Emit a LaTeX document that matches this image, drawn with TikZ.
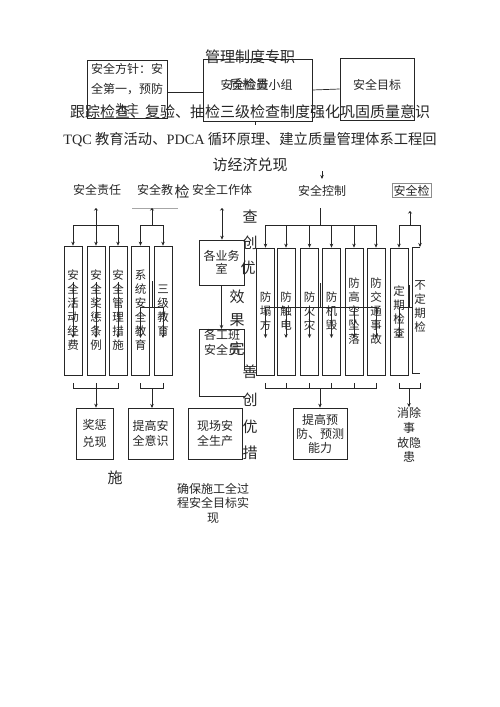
\documentclass[tikz,border=0pt]{standalone}
\usepackage{fontspec}
\setmainfont{Liberation Serif}
\newfontfamily\cjk{Noto Sans CJK SC}
\usetikzlibrary{arrows.meta}
\begin{document}
\begin{tikzpicture}[x=1pt,y=-1pt,line width=0.7pt,color=black!85,
  >={Stealth[length=4pt,width=3.5pt]},
  txt/.style={font=\cjk\fontsize{12}{15}\selectfont,inner sep=0pt,align=center},
  big/.style={font=\cjk\fontsize{15}{18}\selectfont,inner sep=0pt},
  bx/.style={draw,inner sep=0pt,align=center,font=\cjk\fontsize{12}{15}\selectfont},
  col/.style={draw,inner sep=0pt,minimum width=18,align=center,font=\cjk\fontsize{11.5}{14}\selectfont},
  upt/.style={{Stealth[length=2.5pt,width=4pt]}-},
  dbl/.style={double=white,double distance=0.8pt,line width=0.35pt}]
\useasboundingbox (0,0) rectangle (500,707);
% top row
\node[bx,minimum width=80,minimum height=58,font=\cjk\fontsize{12}{20}\selectfont] (fangzhen) at (127,89) {安全方针：安\\全第一，预防\\为主};
\node[bx,minimum width=109,minimum height=62] (xiaozu) at (257.5,90) {};
\node[txt] (xiaozut) at (256.5,85) {安全检查小组};
\node[txt,font=\cjk\fontsize{13}{15}\selectfont] (zhijian) at (249,85) {质检员};
\node[big] (guanli) at (250,57) {管理制度专职};
\node[bx,minimum width=74,minimum height=62] (mubiao) at (377,89) {};
\node[txt] (mubiaot) at (377,85) {安全目标};
\draw ([yshift=-3pt]fangzhen.east) -- ([yshift=-3pt]fangzhen.east -| xiaozu.west);
\draw (xiaozu.east) -- (mubiao.west);
\coordinate (tick) at (255,121);
\draw (tick) -- ++(0,4);
% text lines
\node[big] (l1) at (250,112) {跟踪检查、复验、抽检三级检查制度强化巩固质量意识};
\node[big,font=\cjk\fontsize{14.3}{18}\selectfont] (l2) at (250,140) {{\rmfamily TQC} 教育活动、{\rmfamily PDCA} 循环原理、建立质量管理体系工程回};
\node[big] (l3) at (250,165) {访经济兑现};
% labels
\node[txt] (zeren) at (97,190) {安全责任};
\node[txt] (jiaoyu) at (155,190) {安全教};
\node[big] (jian) at (182,192) {检};
\node[txt] (tixi) at (222,190) {安全工作体};
\node[txt] (kongzhi) at (322,191) {安全控制};
\node[bx,draw=black!45,inner sep=1.5pt] (jiancha) at (411.5,190.5) {安全检};
\coordinate (kzin) at (322,171);
\draw[->] (kzin) -- ++(0,8);
% left columns
\node[col,minimum height=129] (a1) at (73,310.5) {安\\全\\活\\动\\经\\费};
\node[col,minimum height=129] (a2) at (96,310.5) {安\\全\\奖\\惩\\条\\例};
\node[col,minimum height=129] (a3) at (118,310.5) {安\\全\\管\\理\\措\\施};
\node[col,minimum height=129] (a4) at (140.5,310.5) {系\\统\\安\\全\\教\\育};
\node[col,minimum height=129] (a5) at (163,310.5) {三\\级\\教\\育};
\coordinate (zr) at (96,208);
\coordinate (zrb) at (96,225);
\draw[upt] (zr) -- (zrb);
\draw (a1.north |- zrb) -- (a3.north |- zrb);
\foreach \n in {a1,a2,a3} \draw[->] (\n.north |- zrb) -- (\n.north);
\coordinate (jy) at (152,208);
\coordinate (jyb) at (152,225);
\draw[black!35] (132,208) -- (178,208);
\draw[upt] (jy) -- (jyb);
\draw (a4.north |- jyb) -- (a5.north |- jyb);
\foreach \n in {a4,a5} \draw[->] (\n.north |- jyb) -- (\n.north);
\foreach \n in {a1,a2,a3} \draw[->] (\n.center |- 0,282) -- (\n.center |- 0,338);
\draw (a4.center |- 0,307) -- (a5.center |- 0,307);
\foreach \n in {a4,a5} \draw[->] (\n.center |- 0,307) -- (\n.center |- 0,338);
\draw[dbl] (153,281) -- (153,307);
% left results
\node[bx,minimum width=37,minimum height=51,font=\cjk\fontsize{12}{17}\selectfont] (jiangcheng) at (94.5,433.5) {奖惩\\兑现};
\node[bx,minimum width=45,minimum height=51] (yishi) at (150.5,433.5) {提高安\\全意识};
\node[bx,minimum width=54,minimum height=51] (xianchang) at (215,433.5) {现场安\\全生产};
\draw (a1.south |- 0,383) -- (a1.south |- 0,388) -- (a3.south |- 0,388) -- (a3.south |- 0,383);
\draw (a2.south |- 0,383) -- (a2.south |- 0,388);
\draw[->] (a2.south |- 0,388) -- (a2.south |- jiangcheng.north);
\draw (a4.south |- 0,383) -- (a4.south |- 0,388) -- (a5.south |- 0,388) -- (a5.south |- 0,383);
\draw[->] (152,388) -- (152,408);
% middle column
\node[bx,minimum width=45,minimum height=45,font=\cjk\fontsize{12}{13}\selectfont] (yewu) at (221.5,262.5) {各业务\\室};
\coordinate (tx) at (222,208);
\draw[{Stealth[length=2.5pt,width=4pt]}->] (tx) -- (tx |- yewu.north);
\draw[->] (yewu.south) -- (yewu.south |- 0,329);
\coordinate (bz) at (199,329);
\draw (bz) ++(45,41) -- ++(0,-41) -- (bz) -- ++(0,67) -- ++(46,0);
\node[txt] (banzu) at (222,342.5) {各工班\\安全员};
\foreach \ch/\x/\y in {查/250/217,创/250/243,优/248/268,效/237/297,果/237/320,完/237/349,善/250/372,创/250/400,优/250/427,措/250/453,施/115/478}
  \node[big] (c\y) at (\x,\y) {\ch};
\node[txt,font=\cjk\fontsize{12}{14.5}\selectfont] (quebao) at (213,503) {确保施工全过\\程安全目标实\\现};
% right columns
\node[col,minimum height=127] (r1) at (265.5,311.5) {防\\塌\\方};
\node[col,minimum height=127] (r2) at (286,311.5) {防\\触\\电};
\node[col,minimum height=127] (r3) at (309.5,311.5) {防\\火\\灾};
\node[col,minimum height=127] (r4) at (331.5,311.5) {防\\机\\毁};
\node[col,minimum height=127] (r5) at (354,311.5) {防\\高\\空\\坠\\落};
\node[col,minimum height=127] (r6) at (376,311.5) {防\\交\\通\\事\\故};
\node[col,minimum height=127] (r7) at (399,311.5) {定\\期\\检\\查};
\coordinate (r8) at (412,247);
\draw (r8) ++(8,0) -- (r8) -- ++(0,126) -- ++(8,0);
\node[col,draw=none] (r8t) at (420,307) {不\\定\\期\\检};
\coordinate (kz) at (320,208);
\coordinate (kzb) at (320,225);
\draw (kz) -- (kzb);
\draw (r1.north |- kzb) -- (r6.north |- kzb);
\foreach \n in {r1,r2,r3,r4,r5,r6} \draw[->] (\n.north |- kzb) -- (\n.north);
\coordinate (jc) at (410,211);
\coordinate (jcb) at (410,225);
\draw[upt] (jc) -- (jcb);
\draw (r7.north |- jcb) -- (r8t.north |- jcb);
\draw[->] (r7.north |- jcb) -- (r7.north);
\draw[->] (r8t.north |- jcb) -- (r8t |- r8);
\draw (r1.center |- 0,307) -- (r6.center |- 0,307);
\foreach \n in {r1,r2,r3,r4,r5,r6,r7} \draw[->] (\n.center |- 0,307) -- (\n.center |- 0,338);
\draw[dbl] (321,283) -- (321,307);
\draw (r7.center |- 0,307) -- (r8 |- 0,307);
\draw[dbl] (410,285) -- (410,307);
% right results
\node[bx,minimum width=54,minimum height=51,font=\cjk\fontsize{12}{14}\selectfont] (yuce) at (320,433.5) {提高预\\防、预测\\能力};
\node[txt,font=\cjk\fontsize{12}{14.7}\selectfont] (xiaochu) at (409,435) {消除\\事\\故隐\\患};
\draw (r1.south |- 0,383) -- (r1.south |- 0,388) -- (r6.south |- 0,388) -- (r6.south |- 0,383);
\foreach \n in {r2,r3,r4,r5} \draw (\n.south |- 0,383) -- (\n.south |- 0,388);
\draw[->] (yuce.north |- 0,388) -- (yuce.north);
\draw (r7.south |- 0,383) -- (r7.south |- 0,388) -- (r8t.south |- 0,388) -- (r8t.south |- 0,383);
\draw[->] (xiaochu.north |- 0,388) -- (xiaochu.north);
\end{tikzpicture}
\end{document}
